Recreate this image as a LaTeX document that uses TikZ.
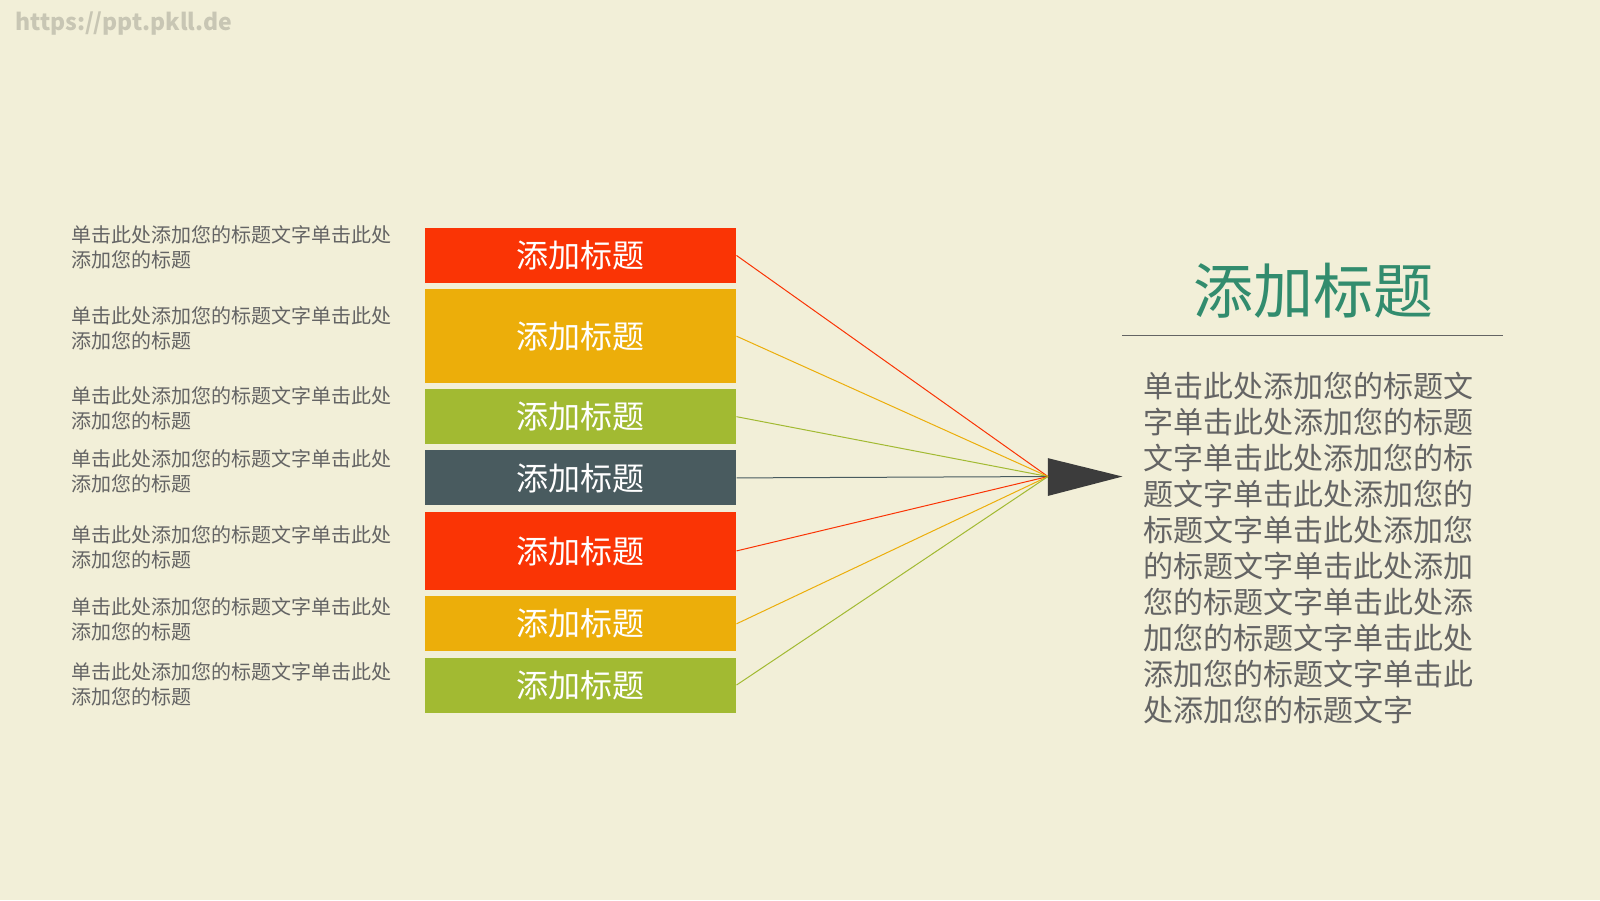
\documentclass[tikz,border=0pt]{standalone}
\usepackage{fontspec}
\setmainfont{Noto Sans CJK SC}
\setsansfont{Noto Sans CJK SC}
\definecolor{bg}{RGB}{242,239,216}
\definecolor{cred}{RGB}{250,52,5}
\definecolor{corange}{RGB}{236,174,10}
\definecolor{cgreen}{RGB}{162,186,50}
\definecolor{cslate}{RGB}{73,91,95}
\definecolor{carrow}{RGB}{60,60,60}
\definecolor{ctitle}{RGB}{50,140,110}
\definecolor{ctext}{RGB}{100,100,100}
\definecolor{cmark}{RGB}{200,198,180}
\tikzset{
  bar/.style={fill=#1, minimum width=155.6pt, inner sep=0pt, anchor=north west, text=white, font=\fontsize{16pt}{18pt}\selectfont},
  side/.style={anchor=west, text=ctext, align=left, inner sep=0pt, font=\fontsize{10pt}{12.4pt}\selectfont},
  ray/.style={draw=#1, line width=0.5pt}
}
\begin{document}
\begin{tikzpicture}[x=0.5102pt,y=0.5102pt,yscale=-1]
\fill[bg] (0,0) rectangle (1568,882);
\useasboundingbox (0,0) rectangle (1568,882);
\node[anchor=north west, text=cmark, font=\fontsize{11.5pt}{12pt}\selectfont\bfseries] (mark) at (8,5) {https://ppt.pkll.de};

% bars
\node[bar=cred, minimum height=27.5pt] (b1) at (416,223) {添加标题};
\node[bar=corange, minimum height=47pt] (b2) at (416,283) {添加标题};
\node[bar=cgreen, minimum height=27.5pt] (b3) at (416,381) {添加标题};
\node[bar=cslate, minimum height=27.5pt] (b4) at (416,441) {添加标题};
\node[bar=cred, minimum height=39.3pt] (b5) at (416,501) {添加标题};
\node[bar=corange, minimum height=27.5pt] (b6) at (416,584) {添加标题};
\node[bar=cgreen, minimum height=27.5pt] (b7) at (416,644) {添加标题};

% side texts
\foreach \y in {242,322,400,462,536,607,671}
  \node[side] at (70,\y) {单击此处添加您的标题文字单击此处\\添加您的标题};

% arrow head
\coordinate (focus) at (1027,467);
\fill[carrow] (focus) -- (1027,449) -- (1100,467) -- (1027,486) -- cycle;
\draw[ray=cred] (b1.east) -- (focus);
\draw[ray=corange] (b2.east) -- (focus);
\draw[ray=cgreen] (b3.east) -- (focus);
\draw[ray=cslate] (b4.east) -- (focus);
\draw[ray=cred] (b5.east) -- (focus);
\draw[ray=corange] (b6.east) -- (focus);
\draw[ray=cgreen] (b7.east) -- (focus);

% right panel
\node[text=ctitle, font=\fontsize{30pt}{33pt}\selectfont] (title) at (1287,285) {添加标题};
\draw[ctext, line width=0.5pt] (1100,329) -- (1473,329);
\node[anchor=north west, text=ctext, align=left, inner sep=0pt, font=\fontsize{15pt}{18pt}\selectfont] (para) at (1120,364) {单击此处添加您的标题文\\字单击此处添加您的标题\\文字单击此处添加您的标\\题文字单击此处添加您的\\标题文字单击此处添加您\\的标题文字单击此处添加\\您的标题文字单击此处添\\加您的标题文字单击此处\\添加您的标题文字单击此\\处添加您的标题文字};
\end{tikzpicture}
\end{document}
